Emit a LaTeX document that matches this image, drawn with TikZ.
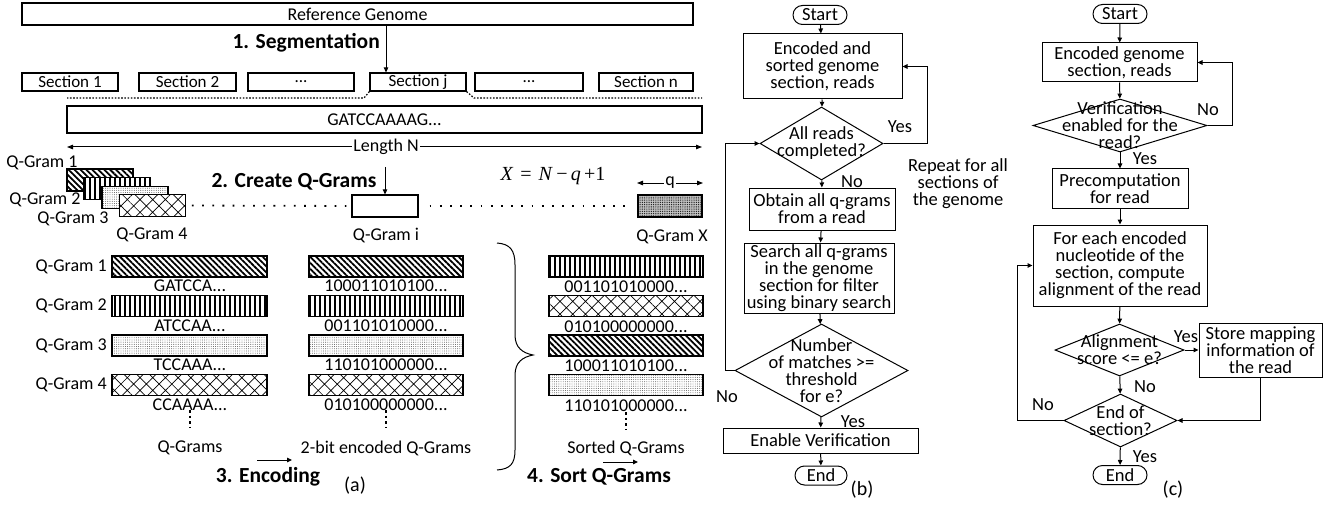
\documentclass[tikz,border=0pt]{standalone}
\usepackage{fontspec}
\setmainfont{Carlito}
\newfontfamily\tnr{Liberation Serif}
\usetikzlibrary{arrows.meta,patterns.meta,shapes.geometric}

\tikzset{
  arr/.style={-{Triangle[length=5pt,width=4.5pt]}, line width=1pt},
  dblarr/.style={{Triangle[length=6pt,width=4.5pt]}-{Triangle[length=6pt,width=4.5pt]}, line width=1pt},
  lbl/.style={font=\fontsize{18}{17}\selectfont, inner sep=0pt, align=center},
  flbl/.style={font=\fontsize{18.5}{17}\selectfont, inner sep=0pt, align=center},
  blbl/.style={font=\fontsize{21.5}{21.5}\selectfont\bfseries, inner sep=0pt},
  plbl/.style={font=\fontsize{20}{20}\selectfont, inner sep=0pt},
  abox/.style={draw, line width=1.2pt, inner sep=0pt, font=\fontsize{18}{17}\selectfont},
  secbox/.style={abox, minimum height=18pt, font=\fontsize{17}{17}\selectfont},
  qs/.style={draw, line width=1.2pt, inner sep=0pt, minimum width=66pt, minimum height=22pt},
  qcol/.style={draw, line width=1.2pt, inner sep=0pt, minimum width=154pt, minimum height=21pt},
  fbox/.style={draw, line width=1pt, inner sep=0pt, align=center, font=\fontsize{18.5}{17}\selectfont},
  term/.style={draw, line width=1pt, rounded corners=9.5pt, inner sep=0pt, minimum width=54pt, minimum height=19pt, font=\fontsize{18.5}{17}\selectfont},
  dia/.style={draw, diamond, line width=1pt, inner sep=0pt},
  dotline/.style={line width=1.2pt, dash pattern=on 1.6pt off 1.6pt},
  rowdots/.style={line width=1.8pt, dash pattern=on 1.8pt off 8.4pt},
  vdots/.style={line width=1.8pt, dash pattern=on 2.6pt off 3pt},
  pA/.style={preaction={fill=white}, pattern={Lines[angle=-45,distance=4.2pt,line width=1.8pt]}},
  pB/.style={preaction={fill=white}, pattern={Lines[angle=90,distance=5pt,line width=2.6pt]}},
  pC/.style={preaction={fill=white}, pattern={Dots[distance=2.2pt,radius=0.45pt]}, pattern color=black!75},
  pD/.style={preaction={fill=white}, pattern={Hatch[angle=45,distance=9pt,line width=0.7pt]}},
  pX/.style={preaction={fill=gray!45}, pattern={Dots[distance=1.8pt,radius=0.5pt]}},
}

\begin{document}
\begin{tikzpicture}[x=1pt,y=-1pt]
\useasboundingbox[fill=white] (0,0) rectangle (1337,505);

% ---------------- (a) q-gram index construction ----------------
\node[abox, minimum width=671pt, minimum height=22pt] (ref) at (357.5,14) {Reference Genome};
\node[blbl, anchor=east] (seg) at (380,43) {1. Segmentation};

\node[secbox, minimum width=96pt]  (s1)  at (70,82)    {Section 1};
\node[secbox, minimum width=97pt]  (s2)  at (187.5,82) {Section 2};
\node[secbox, minimum width=106pt] (sd1) at (301,82)   {...};
\node[secbox, minimum width=96pt]  (sj)  at (418,82)   {Section j};
\node[secbox, minimum width=108pt] (sd2) at (529,82)   {...};
\node[secbox, minimum width=94pt]  (sn)  at (646,82)   {Section n};

\coordinate (segx) at (386,0);
\draw[arr] (ref.south -| segx) -- (sj.north -| segx);

% zoom into section j
\coordinate (dl) at (67,98);   \coordinate (dlk) at (364,98);
\coordinate (drk) at (474,98); \coordinate (dr) at (702,98);
\draw[dotline] (sj.south west) -- (dlk) -- (dl);
\draw[dotline] (sj.south east) -- (drk) -- (dr);

\node[abox, minimum width=635pt, minimum height=27pt] (gen) at (384.5,119.5) {GATCCAAAAG...};

\coordinate (lnl) at (67,147); \coordinate (lnr) at (702,147);
\draw[dblarr] (lnl) -- (lnr);
\node[lbl, fill=white, inner xsep=1pt] (lenN) at (386,147) {Length N};

% overlapping q-grams
\node[qs, pA] (sq1) at (100,180)   {};
\node[qs, pB] (sq2) at (117,188.5) {};
\node[qs, pC] (sq3) at (135,197.5) {};
\node[qs, pD] (sq4) at (152.5,205.5) {};
\node[lbl] (lq1) at (42,163)  {Q-Gram 1};
\node[lbl] (lq2) at (45,200)  {Q-Gram 2};
\node[lbl] (lq3) at (73,219)  {Q-Gram 3};
\node[lbl] (lq4) at (152,235) {Q-Gram 4};

\node[qs] (qi) at (385,206) {};
\node[lbl] (lqi) at (386,235) {Q-Gram i};
\node[qs, pX, minimum width=64pt] (qx) at (670,206) {};
\node[lbl] (lqx) at (672,237) {Q-Gram X};
\draw[rowdots, shorten <=6pt, shorten >=5pt] (sq4.east) -- (qi.west);
\draw[rowdots, shorten <=11pt, shorten >=6pt] (qi.east) -- (qx.west);

\node[blbl] (cq) at (294,182) {2. Create Q-Grams};
\coordinate (cqtop) at (385,167);
\draw[arr] (cqtop) -- (qi.north);

\node[font=\fontsize{20}{20}\selectfont\tnr, inner sep=0pt] (form) at (553,176)
  {\textit{X}\hspace{7pt}=\hspace{7pt}\textit{N}\,−\,\textit{q}\,+1};

\coordinate (qal) at (637,183); \coordinate (qar) at (703,183);
\draw[dblarr] (qal) -- (qar);
\node[lbl, fill=white, inner xsep=1pt] (qlen) at (670,183) {q};

% q-gram columns: plain, encoded, sorted
\node[qcol, pA, minimum width=155pt] (l1) at (189.5,266.5) {};
\node[qcol, pB, minimum width=155pt] (l2) at (189.5,306)   {};
\node[qcol, pC, minimum width=155pt] (l3) at (189.5,345.5) {};
\node[qcol, pD, minimum width=155pt] (l4) at (189.5,385)   {};
\node[lbl, anchor=east] (ll1) at (107,266.5) {Q-Gram 1};
\node[lbl, anchor=east] (ll2) at (107,306)   {Q-Gram 2};
\node[lbl, anchor=east] (ll3) at (107,345.5) {Q-Gram 3};
\node[lbl, anchor=east] (ll4) at (107,385)   {Q-Gram 4};
\node[lbl] (lt1) at (190,286)   {GATCCA...};
\node[lbl] (lt2) at (190,325.5) {ATCCAA...};
\node[lbl] (lt3) at (190,365)   {TCCAAA...};
\node[lbl] (lt4) at (190,404.5) {CCAAAA...};

\node[qcol, pA] (m1) at (386,266.5) {};
\node[qcol, pB] (m2) at (386,306)   {};
\node[qcol, pC] (m3) at (386,345.5) {};
\node[qcol, pD] (m4) at (386,385)   {};
\node[lbl] (mt1) at (386,286)   {100011010100...};
\node[lbl] (mt2) at (386,325.5) {001101010000...};
\node[lbl] (mt3) at (386,365)   {110101000000...};
\node[lbl] (mt4) at (386,404.5) {010100000000...};

\node[qcol, pB] (r1) at (626,266.5) {};
\node[qcol, pD] (r2) at (626,306)   {};
\node[qcol, pA] (r3) at (626,345.5) {};
\node[qcol, pC] (r4) at (626,385)   {};
\node[lbl] (rt1) at (626,287)   {001101010000...};
\node[lbl] (rt2) at (626,327)   {010100000000...};
\node[lbl] (rt3) at (626,366)   {100011010100...};
\node[lbl] (rt4) at (626,406)   {110101000000...};

\coordinate (vl1) at (190,410); \coordinate (vl2) at (190,427);
\coordinate (vm1) at (386,410); \coordinate (vm2) at (386,427);
\coordinate (vr1) at (626,412); \coordinate (vr2) at (626,429);
\draw[vdots] (vl1) -- (vl2);
\draw[vdots] (vm1) -- (vm2);
\draw[vdots] (vr1) -- (vr2);

\node[lbl] (bq)  at (190,448) {Q-Grams};
\node[lbl] (bm)  at (386,448) {2-bit encoded Q-Grams};
\node[lbl] (bs)  at (626,448) {Sorted Q-Grams};

\coordinate (ea1) at (257,460); \coordinate (ea2) at (292,460);
\draw[arr] (ea1) -- (ea2);
\coordinate (sa1) at (603,462); \coordinate (sa2) at (638,462);
\draw[arr] (sa1) -- (sa2);

\node[blbl] (enc) at (268,477) {3. Encoding};
\node[blbl] (srt) at (599,477) {4. Sort Q-Grams};
\node[plbl] (capa) at (355,486) {(a)};

% curly brace joining encoded and sorted columns
\draw[line width=1pt] (497,243) .. controls (510,244) and (515,250) .. (515,265)
  -- (515,335) .. controls (515,348) and (523,353) .. (533,355)
  .. controls (523,357) and (515,362) .. (515,375)
  -- (515,450) .. controls (515,464) and (510,469) .. (497,470);

% ---------------- (b) filtering ----------------
\node[term] (bstart) at (820,15) {Start};
\node[fbox, minimum width=159pt, minimum height=65pt] (benc) at (822.5,66.5)
  {Encoded and\\sorted genome\\section, reads};
\node[dia, minimum width=123pt, minimum height=73pt,
  label={[flbl]center:All reads\\completed?}] (bd1) at (821.5,143.5) {};
\node[fbox, minimum width=146pt, minimum height=42pt] (bobt) at (822,209)
  {Obtain all q-grams\\from a read};
\node[fbox, minimum width=150pt, minimum height=70pt] (bsea) at (819,278)
  {Search all q-grams\\in the genome\\section for filter\\using binary search};
\node[dia, minimum width=173pt, minimum height=93pt,
  label={[flbl]center:Number\\of matches >=\\threshold\\for e?}] (bd2) at (821.5,370.5) {};
\node[fbox, minimum width=195pt, minimum height=25pt] (bev) at (820.5,440.5)
  {Enable Verification};
\node[term, minimum width=52pt] (bend) at (821,475.5) {End};

\draw[arr] (bstart) -- (benc);
\draw[arr] (benc) -- (bd1);
\draw[arr] (bd1) -- (bobt);
\draw[arr] (bobt) -- (bsea);
\draw[arr] (bsea) -- (bd2);
\draw[arr] (bd2) -- (bev);
\draw[arr] (bev) -- (bend);

\coordinate (byx) at (927,0);
\draw[arr] (bd1.east) -- (bd1.east -| byx) |- (benc.east);
\coordinate (bnx) at (725,0);
\draw[arr] (bd2.west) -- (bd2.west -| bnx) |- (bd1.west);

\node[flbl] (byes1) at (900,127) {Yes};
\node[flbl] (bno1)  at (852,182) {No};
\node[flbl] (brep)  at (958,184) {Repeat for all\\sections of\\the genome};
\node[flbl] (bno2)  at (727,397) {No};
\node[flbl] (byes2) at (853,422) {Yes};
\node[plbl] (capb)  at (862,490) {(b)};

% ---------------- (c) verification ----------------
\node[term] (cstart) at (1120,14) {Start};
\node[fbox, minimum width=155pt, minimum height=39pt] (cenc) at (1119.5,62.5)
  {Encoded genome\\section, reads};
\node[dia, minimum width=174pt, minimum height=53pt,
  label={[flbl]center:Verification\\enabled for the\\read?}] (cd1) at (1120,125.5) {};
\node[fbox, minimum width=136pt, minimum height=39pt] (cpre) at (1120,188.5)
  {Precomputation\\for read};
\node[fbox, minimum width=174pt, minimum height=81pt] (cfor) at (1120,265.5)
  {For each encoded\\nucleotide of the\\section, compute\\alignment of the read};
\node[dia, minimum width=129pt, minimum height=52pt,
  label={[flbl]center:Alignment\\score <= e?}] (cd2) at (1119.5,350) {};
\node[fbox, minimum width=123pt, minimum height=54pt] (cstore) at (1260.5,350)
  {Store mapping\\information of\\the read};
\node[dia, minimum width=113pt, minimum height=53pt,
  label={[flbl]center:End of\\section?}] (cd3) at (1120.5,420.5) {};
\node[term] (cend) at (1120,475) {End};

\draw[arr] (cstart) -- (cenc);
\draw[arr] (cenc) -- (cd1);
\draw[arr] (cd1) -- (cpre);
\draw[arr] (cpre) -- (cfor);
\draw[arr] (cfor) -- (cd2);
\draw[arr] (cd2) -- (cstore);
\draw[arr] (cd2) -- (cd3);
\draw[arr] (cd3) -- (cend);
\draw[arr] (cstore.south) |- (cd3.east);

\coordinate (cnx1) at (1232,0);
\draw[arr] (cd1.east) -- (cd1.east -| cnx1) |- (cenc.east);
\coordinate (cnx2) at (1017,0);
\draw[arr] (cd3.west) -- (cd3.west -| cnx2) |- (cfor.west);

\node[flbl] (cno1)  at (1208,110) {No};
\node[flbl] (cyes1) at (1145,159) {Yes};
\node[flbl] (cyes2) at (1186,337) {Yes};
\node[flbl] (cno2)  at (1145,387) {No};
\node[flbl] (cno3)  at (1043,405) {No};
\node[flbl] (cyes3) at (1145,457) {Yes};
\node[plbl] (capc)  at (1173,490) {(c)};
\end{tikzpicture}
\end{document}
